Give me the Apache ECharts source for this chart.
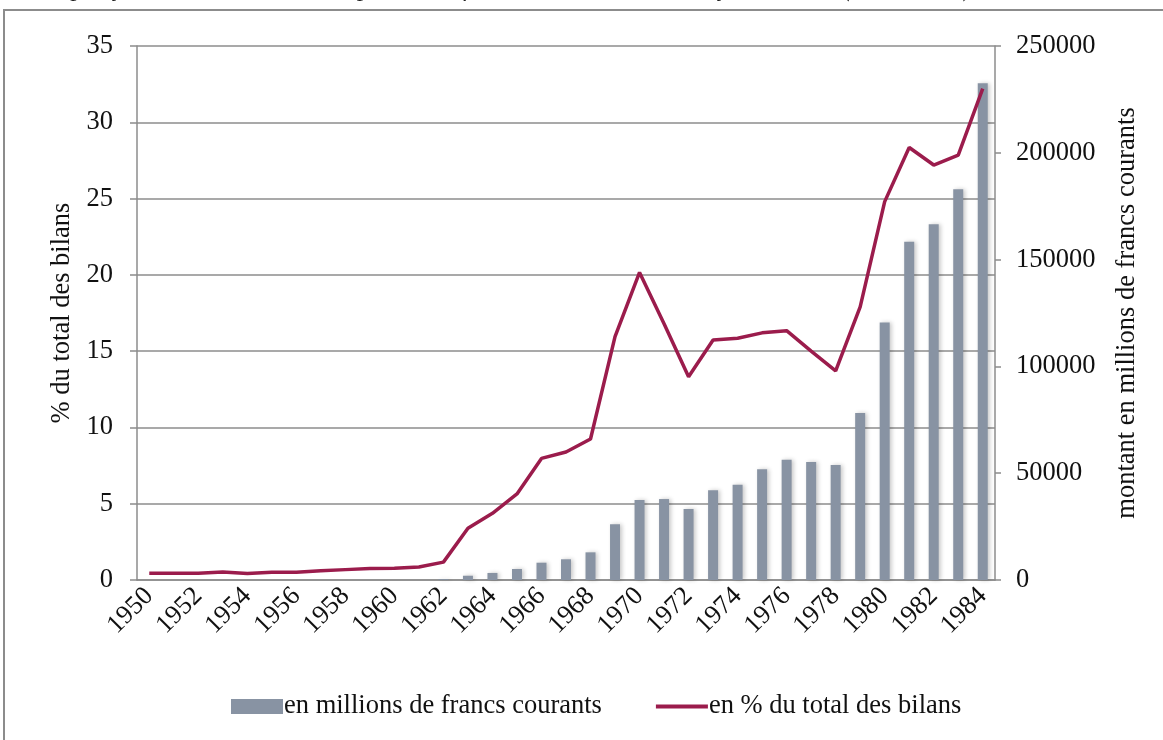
<!DOCTYPE html>
<html>
<head>
<meta charset="utf-8">
<script src="https://cdn.jsdelivr.net/npm/echarts@6/dist/echarts.min.js"></script>
<style>
  html, body { margin: 0; padding: 0; background: #fff; }
  #chart { width: 1163px; height: 740px; }
</style>
</head>
<body>
<div id="chart"></div>
<script>
// années
var years = [];
for (var y = 1950; y <= 1984; y++) years.push(String(y));

// montant en millions de francs courants (axe de droite)
var montants = [0, 0, 0, 0, 0, 0, 0, 0, 0, 0, 0, 0, 400,
  2000, 3300, 5150, 8100, 9700, 12950, 26100, 37450, 37900, 33250,
  42000, 44650, 51800, 56350, 55250, 53850, 78200, 120500, 158400,
  166500, 182900, 232550];

// en % du total des bilans (axe de gauche)
var pourcents = [0.45, 0.45, 0.45, 0.52, 0.42, 0.5, 0.5, 0.6, 0.68, 0.75,
  0.77, 0.85, 1.17, 3.39, 4.37, 5.64, 7.97, 8.39, 9.24, 15.95, 20.16,
  16.8, 13.32, 15.73, 15.84, 16.2, 16.34, 15.0, 13.7, 17.9, 24.8, 28.35,
  27.2, 27.85, 32.2];

var serif = '"Liberation Serif", "DejaVu Serif", serif';
var gris = '#8c8c8c';
// trait de légende : bande de 4 px au milieu d'une boîte de 52 x 15
var iconeTrait = 'path://M0,0 L0.01,0 L0,0.01 Z M0,5.5 L52,5.5 L52,9.5 L0,9.5 Z M0,15 L0.01,15 L0,14.99 Z';

var chart = echarts.init(document.getElementById('chart'));
var option = {
  animation: false,
  textStyle: { fontFamily: serif },
  graphic: [
    {
      type: 'rect',
      shape: { x: 4, y: 10, width: 1220, height: 800 },
      style: { fill: 'none', stroke: gris, lineWidth: 2 }
    },
    {
      type: 'text',
      x: 30,
      y: 2,
      style: {
        text: 'Graphique 37 : Évolution des opérations fiduciaires dans les banques suisses (1950-1984)',
        font: 'italic 26px ' + serif,
        fill: '#222',
        verticalAlign: 'bottom'
      }
    }
  ],
  grid: { left: 137, right: 168, top: 46, bottom: 160 },
  legend: {
    left: 226,
    top: 688,
    itemWidth: 52,
    itemHeight: 15,
    itemGap: 54,
    textStyle: { fontSize: 26.5, color: '#111', fontFamily: serif, padding: [0, 0, 0, -4] },
    data: [
      { name: 'en millions de francs courants', icon: 'rect' },
      { name: 'en % du total des bilans', icon: iconeTrait, itemStyle: { color: '#9b1c4c' } }
    ]
  },
  xAxis: {
    type: 'category',
    data: years,
    boundaryGap: true,
    axisLine: { lineStyle: { color: gris, width: 1.5 } },
    axisTick: { interval: 0, length: 6, lineStyle: { color: gris, width: 1.5 } },
    axisLabel: { interval: 1, rotate: 45, fontSize: 26.5, color: '#111', margin: 12 }
  },
  yAxis: [
    {
      type: 'value',
      min: 0,
      max: 35,
      interval: 5,
      name: '% du total des bilans',
      nameLocation: 'middle',
      nameRotate: 90,
      nameGap: 60,
      nameTextStyle: { fontSize: 26.5, color: '#111' },
      axisLine: { show: true, lineStyle: { color: gris, width: 1.5 } },
      axisTick: { show: true, length: 7, lineStyle: { color: gris, width: 1.5 } },
      axisLabel: { fontSize: 26.5, color: '#111', margin: 24 },
      splitLine: { lineStyle: { color: gris, width: 1.5 } }
    },
    {
      type: 'value',
      min: 0,
      max: 250000,
      interval: 50000,
      position: 'right',
      alignTicks: false,
      name: 'montant en millions de francs courants',
      nameLocation: 'middle',
      nameRotate: 90,
      nameGap: 119,
      nameTextStyle: { fontSize: 26.5, color: '#111' },
      axisLine: { show: true, lineStyle: { color: gris, width: 1.5 } },
      axisTick: { show: true, length: 6, lineStyle: { color: gris, width: 1.5 } },
      axisLabel: {
        fontSize: 26.5, color: '#111', margin: 21,
        formatter: function (v) { return String(v); }
      },
      splitLine: { show: false }
    }
  ],
  series: [
    {
      name: 'en millions de francs courants',
      type: 'bar',
      yAxisIndex: 1,
      data: montants,
      barWidth: 10,
      itemStyle: {
        color: '#8893a3',
        shadowColor: 'rgba(0,0,0,0.22)',
        shadowBlur: 4,
        shadowOffsetX: 2
      }
    },
    {
      name: 'en % du total des bilans',
      type: 'line',
      yAxisIndex: 0,
      data: pourcents,
      symbol: 'none',
      lineStyle: { color: '#9b1c4c', width: 3.5 },
      itemStyle: { color: '#9b1c4c' }
    }
  ]
};
chart.setOption(option);
</script>
</body>
</html>
